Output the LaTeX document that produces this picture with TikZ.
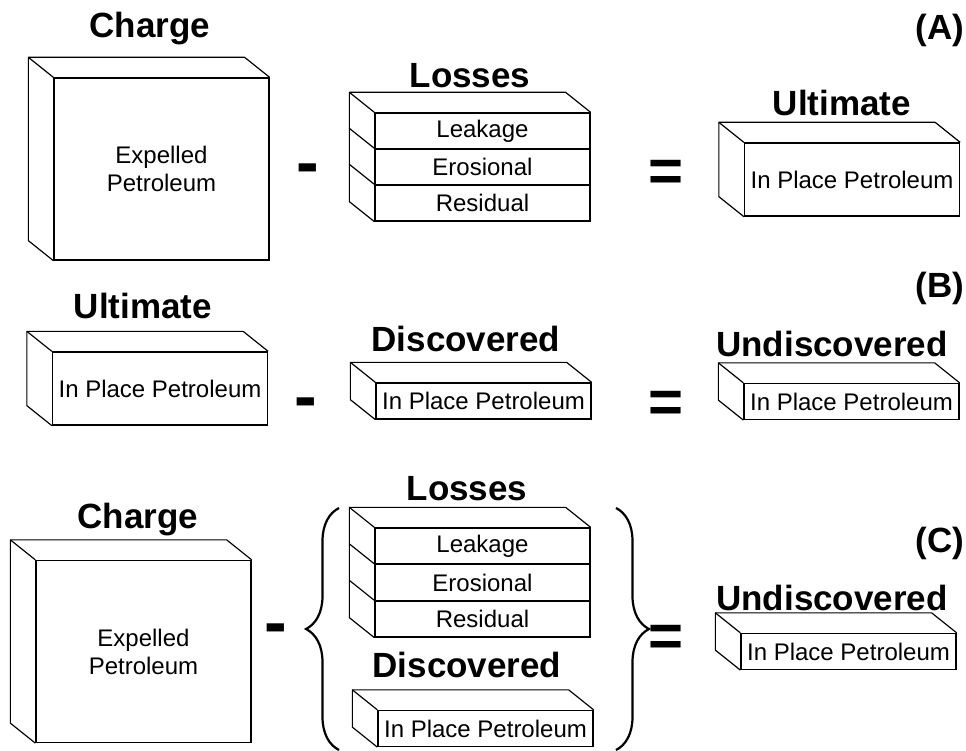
\documentclass[tikz,border=0pt]{standalone}
\usepackage{fontspec}
\setmainfont{Liberation Sans}
\usetikzlibrary{calc,decorations.pathreplacing}

\tikzset{
  face/.style={draw, line width=1.3pt, inner sep=0pt, minimum width=215pt,
    align=center, font=\fontsize{24}{28}\selectfont},
  bigface/.style={face, minimum height=182pt},
  midface/.style={face, minimum height=73pt},
  slabface/.style={face, minimum height=36pt},
  title/.style={anchor=base, font=\bfseries\fontsize{35}{38}\selectfont},
  minussign/.style={anchor=base, font=\bfseries\fontsize{68}{70}\selectfont},
  equalsign/.style={anchor=base, font=\bfseries\fontsize{60}{64}\selectfont},
  edge/.style={line width=1.2pt, line join=round},
  bracket/.style={line width=2.2pt, decorate, decoration={brace, amplitude=33pt}},
}

% top and left faces of a box (#1 = top front face, #2 = bottom front face)
\newcommand{\boxdepth}[2]{%
  \draw[edge] (#2.south west) -- ++(-25,-20) |- ($(#1.north east)+(-25,-20)$) -- (#1.north east);
  \draw[edge] (#1.north west) -- ++(-25,-20);
}

\begin{document}
\begin{tikzpicture}[x=1pt, y=-1pt]
  \useasboundingbox (0,0) rectangle (966,751);

  % (A)
  \node[title] (tagA) at (940,40) {(A)};
  \node[title] (chargeA) at (150,38) {Charge};
  \node[bigface] (expA) at (161.5,169) {Expelled\\Petroleum};
  \boxdepth{expA}{expA}
  \node[minussign] (minusA) at (307.5,186) {-};
  \node[title] (lossA) at (470,88) {Losses};
  \node[slabface] (leakA) at (482.5,131) {Leakage};
  \node[slabface] (eroA) at (482.5,167) {Erosional};
  \node[slabface] (resA) at (482.5,203) {Residual};
  \boxdepth{leakA}{resA}
  \draw[edge] (eroA.north west) -- ++(-25,-20);
  \draw[edge] (resA.north west) -- ++(-25,-20);
  \node[equalsign] (eqA) at (666,192) {=};
  \node[title] (ultA) at (842,116) {Ultimate};
  \node[midface] (ipA) at (852,179.5) {In Place Petroleum};
  \boxdepth{ipA}{ipA}

  % (B)
  \node[title] (tagB) at (940,298) {(B)};
  \node[title] (ultB) at (143,318) {Ultimate};
  \node[midface] (ipB) at (160,388.5) {In Place Petroleum};
  \boxdepth{ipB}{ipB}
  \node[minussign] (minusB) at (306,419) {-};
  \node[title] (discB) at (466,351) {Discovered};
  \node[slabface] (discipB) at (483.5,401) {In Place Petroleum};
  \boxdepth{discipB}{discipB}
  \node[equalsign] (eqB) at (666,422) {=};
  \node[title] (undiscB) at (832,356) {Undiscovered};
  \node[slabface] (undipB) at (851.5,401.5) {In Place Petroleum};
  \boxdepth{undipB}{undipB}

  % (C)
  \node[title] (tagC) at (940,552) {(C)};
  \node[title] (chargeC) at (138,528) {Charge};
  \node[bigface] (expC) at (143.5,651.5) {Expelled\\Petroleum};
  \boxdepth{expC}{expC}
  \node[minussign] (minusC) at (276,645) {-};
  \coordinate (braceLbot) at (339,750);
  \coordinate (braceLtop) at (339,508);
  \coordinate (braceRtop) at (616,508);
  \coordinate (braceRbot) at (616,750);
  \draw[bracket] (braceLbot) -- (braceLtop);
  \draw[bracket] (braceRtop) -- (braceRbot);
  \node[title] (lossC) at (467,500) {Losses};
  \node[slabface] (leakC) at (482.5,546) {Leakage};
  \node[slabface] (eroC) at (482.5,582.5) {Erosional};
  \node[slabface] (resC) at (482.5,619) {Residual};
  \boxdepth{leakC}{resC}
  \draw[edge] (eroC.north west) -- ++(-25,-20);
  \draw[edge] (resC.north west) -- ++(-25,-20);
  \node[title] (discC) at (467,677) {Discovered};
  \node[slabface] (discipC) at (485.5,728.5) {In Place Petroleum};
  \boxdepth{discipC}{discipC}
  \node[equalsign] (eqC) at (666,656) {=};
  \node[title] (undiscC) at (832,610) {Undiscovered};
  \node[slabface] (undipC) at (848.5,651.5) {In Place Petroleum};
  \boxdepth{undipC}{undipC}
\end{tikzpicture}
\end{document}
